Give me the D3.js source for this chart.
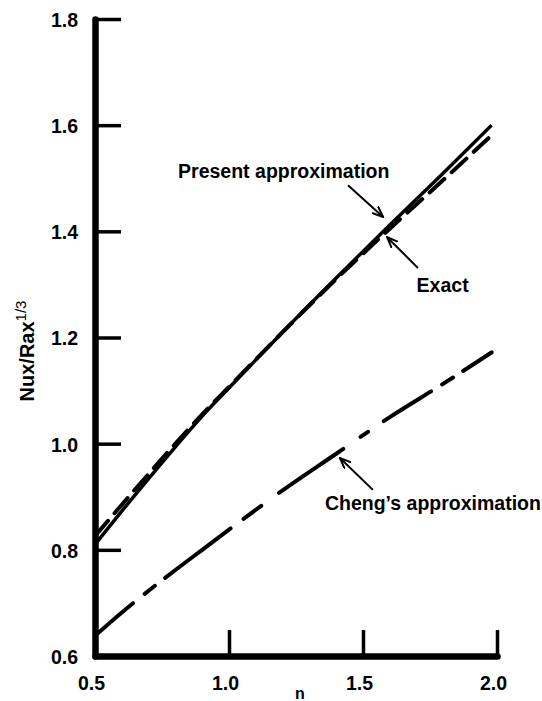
<!DOCTYPE html>
<html>
<head>
<meta charset="utf-8">
<script src="https://cdn.jsdelivr.net/npm/d3@7"></script>
<style>
  body { margin: 0; background: #fff; }
  text { font-family: "Liberation Sans", Arial, sans-serif; font-weight: bold; fill: #000; }
</style>
</head>
<body>
<div id="chart"></div>
<script>
// data
var nValues = [0.5, 0.6, 0.7, 0.8, 0.9, 1.0, 1.2, 1.4, 1.6, 1.8, 1.98];
var presentValues = [0.81, 0.873, 0.934, 0.994, 1.052, 1.105, 1.21, 1.312, 1.412, 1.51, 1.6];
var exactValues = [0.826, 0.885, 0.943, 1.0, 1.055, 1.107, 1.21, 1.31, 1.405, 1.497, 1.581];
var chengValues = [0.638, 0.682, 0.723, 0.762, 0.8, 0.838, 0.912, 0.981, 1.05, 1.113, 1.172];

var xTicks = [0.5, 1.0, 1.5, 2.0];
var yTicks = [0.6, 0.8, 1.0, 1.2, 1.4, 1.6, 1.8];

// annotations: [label, label n, label v, arrow from n, v, arrow to n, v]
var notes = [
  ["Present approximation", 0.81, 1.50, 1.444, 1.487, 1.575, 1.427],
  ["Exact", 1.70, 1.286, 1.705, 1.331, 1.59, 1.389],
  ["Cheng\u2019s approximation", 1.358, 0.875, 1.537, 0.913, 1.414, 0.973]
];

var width = 542, height = 701;
var svg = d3.select("#chart").append("svg")
  .attr("width", width)
  .attr("height", height);

var x = d3.scaleLinear().domain([0.5, 2.0]).range([95, 497]);
var y = d3.scaleLinear().domain([0.6, 1.8]).range([656, 19]);

// arrowhead
svg.append("defs").append("marker")
  .attr("id", "arrow")
  .attr("viewBox", "0 0 12 10")
  .attr("refX", 11).attr("refY", 5)
  .attr("markerWidth", 12).attr("markerHeight", 10)
  .attr("markerUnits", "userSpaceOnUse")
  .attr("orient", "auto")
  .append("path")
  .attr("d", "M0,0.5 L11,5 L0,9.5")
  .attr("fill", "none")
  .attr("stroke", "#000")
  .attr("stroke-width", 2);

// axes
var yAxis = d3.axisLeft(y).tickValues(yTicks).tickFormat(d3.format(".1f"))
  .tickSize(-26).tickSizeOuter(0).tickPadding(17);
var gy = svg.append("g").attr("transform", "translate(" + x(0.5) + ",0)").call(yAxis);

var xAxis = d3.axisBottom(x).tickValues(xTicks).tickFormat(d3.format(".1f"))
  .tickSize(-26).tickSizeOuter(0).tickPadding(20);
var gx = svg.append("g").attr("transform", "translate(0," + y(0.6) + ")").call(xAxis);

[gx, gy].forEach(function (g) {
  g.select(".domain").attr("stroke", "#000").attr("stroke-width", 6.5).attr("stroke-linecap", "round");
  g.selectAll(".tick line").attr("stroke", "#000").attr("stroke-width", 3.5);
  g.selectAll(".tick text").style("font-size", "19.5px").style("font-family", "'Liberation Sans', Arial, sans-serif").style("font-weight", "bold");
});
// first ticks sit on the other axis: keep label, drop line
gy.selectAll(".tick").filter(function (d) { return d === 0.6; }).select("line").remove();
gx.selectAll(".tick").filter(function (d) { return d === 0.5; }).select("line").remove();
gx.selectAll(".tick text").attr("dx", -4);
gy.selectAll(".tick text").attr("dy", "0.38em");

// axis titles
svg.append("text")
  .attr("x", 300).attr("y", 699)
  .attr("text-anchor", "middle")
  .style("font-size", "16px")
  .text("n");

var yt = svg.append("text")
  .attr("transform", "translate(34,351) rotate(-90)")
  .attr("text-anchor", "middle")
  .style("font-size", "20px");
yt.append("tspan").text("Nux/Rax");
yt.append("tspan").attr("dy", -8).style("font-size", "15px").style("font-weight", "normal").text("1/3");

// curves
function series(vals) {
  return nValues.map(function (n, i) { return [n, vals[i]]; });
}
var line = d3.line()
  .x(function (d) { return x(d[0]); })
  .y(function (d) { return y(d[1]); })
  .curve(d3.curveMonotoneX);

svg.append("path")
  .attr("d", line(series(exactValues)))
  .attr("fill", "none").attr("stroke", "#000")
  .attr("stroke-width", 4).attr("stroke-linecap", "round")
  .attr("stroke-dasharray", "20,10");

svg.append("path")
  .attr("d", line(series(presentValues)))
  .attr("fill", "none").attr("stroke", "#000")
  .attr("stroke-width", 3.5);

svg.append("path")
  .attr("d", line(series(chengValues)))
  .attr("fill", "none").attr("stroke", "#000")
  .attr("stroke-width", 4).attr("stroke-linecap", "round")
  .attr("stroke-dasharray", "50,15,13,13,82,16,22,22,78,21,9,19,56,13,13,12,60");

// labels and arrows
notes.forEach(function (d) {
  svg.append("text")
    .attr("x", x(d[1])).attr("y", y(d[2]))
    .style("font-size", "19.5px")
    .text(d[0]);
  svg.append("line")
    .attr("x1", x(d[3])).attr("y1", y(d[4]))
    .attr("x2", x(d[5])).attr("y2", y(d[6]))
    .attr("stroke", "#000").attr("stroke-width", 2)
    .attr("marker-end", "url(#arrow)");
});
</script>
</body>
</html>
